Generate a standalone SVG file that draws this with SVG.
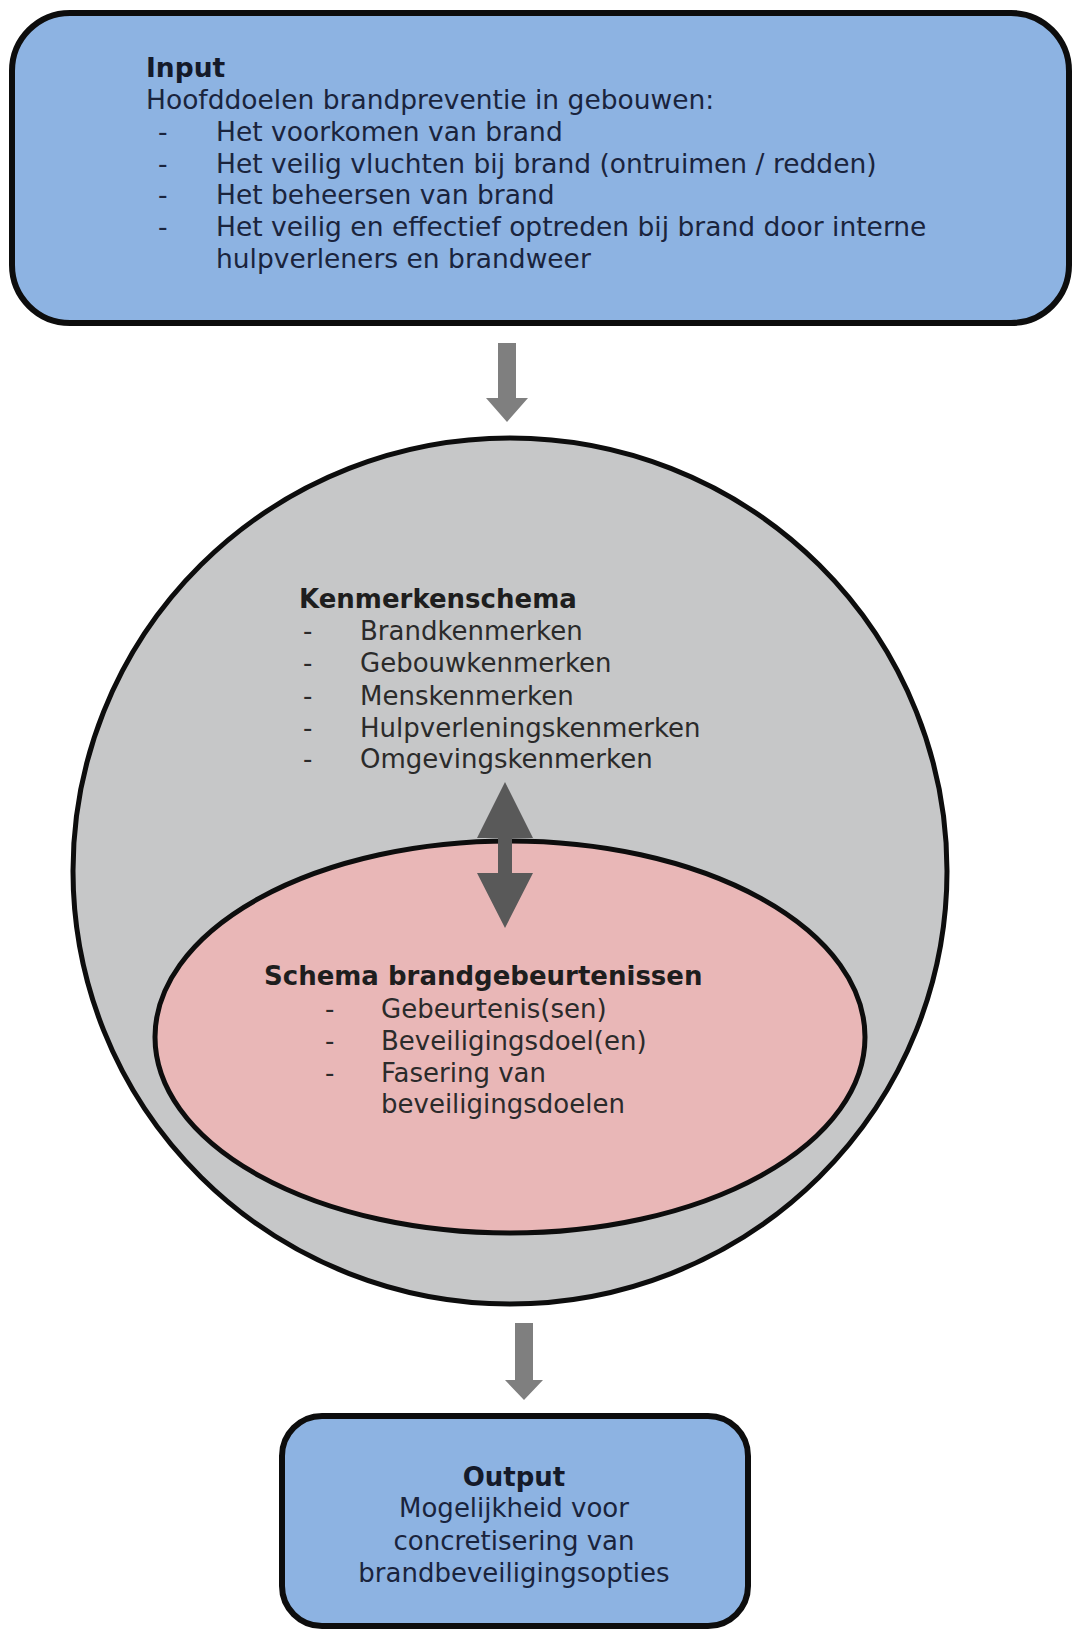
<svg xmlns="http://www.w3.org/2000/svg" width="1077" height="1631" viewBox="0 0 1077 1631">
<style>
text{font-family:"DejaVu Sans","Verdana",sans-serif;font-size:26px}
.b{font-weight:bold}
.t{font-size:26.5px}
.blue{fill:#8db3e2;stroke:#0d0d0d;stroke-width:6}
.navy{fill:#1a243d}
.dark{fill:#2b2b2b}
.arr{fill:#7f7f7f}
.arr2{fill:#595959}
</style>
<rect width="1077" height="1631" fill="#ffffff"/>
<g id="input">
<rect class="blue" x="12" y="13" width="1057" height="310" rx="58" ry="58"/>
<text class="b t" x="146" y="77" fill="#141a2a">Input</text>
<g class="navy">
<text class="t" x="146" y="109">Hoofddoelen brandpreventie in gebouwen:</text>
<text class="t" x="158" y="141">-</text><text class="t" x="216" y="141">Het voorkomen van brand</text>
<text class="t" x="158" y="173">-</text><text class="t" x="216" y="173">Het veilig vluchten bij brand (ontruimen / redden)</text>
<text class="t" x="158" y="204">-</text><text class="t" x="216" y="204">Het beheersen van brand</text>
<text class="t" x="158" y="236">-</text><text class="t" x="216" y="236">Het veilig en effectief optreden bij brand door interne</text>
<text class="t" x="216" y="268">hulpverleners en brandweer</text>
</g>
</g>
<g id="kenmerkenschema">
<ellipse cx="510" cy="871" rx="437" ry="433" fill="#c6c7c8" stroke="#0d0d0d" stroke-width="5"/>
<text class="b" x="299" y="608" fill="#1e1e1e">Kenmerkenschema</text>
<g class="dark">
<text x="303" y="640">-</text><text x="360" y="640">Brandkenmerken</text>
<text x="303" y="672">-</text><text x="360" y="672">Gebouwkenmerken</text>
<text x="303" y="705">-</text><text x="360" y="705">Menskenmerken</text>
<text x="303" y="737">-</text><text x="360" y="737">Hulpverleningskenmerken</text>
<text x="303" y="768">-</text><text x="360" y="768">Omgevingskenmerken</text>
</g>
</g>
<g id="brandgebeurtenissen">
<ellipse cx="510" cy="1037" rx="355" ry="196" fill="#e9b7b7" stroke="#0d0d0d" stroke-width="5"/>
<text class="b" x="264" y="985" fill="#1e1e1e">Schema brandgebeurtenissen</text>
<g class="dark">
<text x="325" y="1018">-</text><text x="381" y="1018">Gebeurtenis(sen)</text>
<text x="325" y="1050">-</text><text x="381" y="1050">Beveiligingsdoel(en)</text>
<text x="325" y="1082">-</text><text x="381" y="1082">Fasering van</text>
<text x="381" y="1113">beveiligingsdoelen</text>
</g>
</g>
<g id="output">
<rect class="blue" x="282" y="1416" width="466" height="210" rx="40" ry="40"/>
<g class="navy" text-anchor="middle">
<text class="b" x="514" y="1486" fill="#141a2a">Output</text>
<text x="514" y="1517">Mogelijkheid voor</text>
<text x="514" y="1550">concretisering van</text>
<text x="514" y="1582">brandbeveiligingsopties</text>
</g>
</g>
<g id="connectors">
<polygon class="arr" points="498,343 516,343 516,398 528,398 507,422 486,398 498,398"/>
<polygon class="arr2" points="505,782 533,838 512,838 512,873 533,873 505,928 477,873 498,873 498,838 477,838"/>
<polygon class="arr" points="515,1323 533,1323 533,1380 543,1380 524,1400 505,1380 515,1380"/>
</g>
</svg>
